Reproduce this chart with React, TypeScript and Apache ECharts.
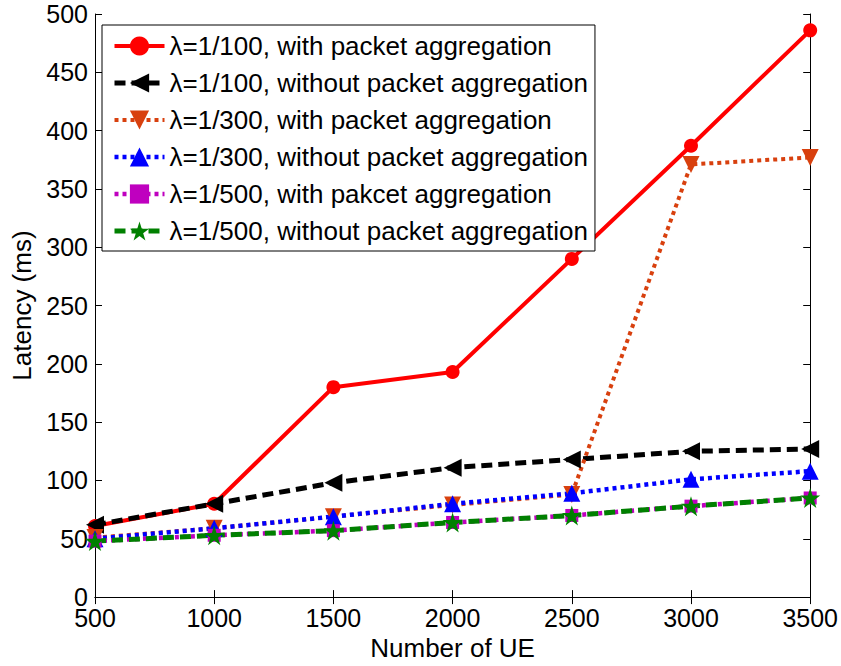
import React, { useEffect, useRef } from "react";
import * as echarts from "echarts";

const ueCounts = [500, 1000, 1500, 2000, 2500, 3000, 3500];
const yTicks = [0, 50, 100, 150, 200, 250, 300, 350, 400, 450, 500];

const lam100With = [61, 80, 180, 193, 290, 387, 486];
const lam100Without = [62, 80, 98, 111, 118, 125, 127];
const lam300With = [51, 59, 69, 79, 88, 371, 377];
const lam300Without = [50, 59, 69, 80, 89, 101, 108];
const lam500With = [48, 53, 57, 64, 70, 78, 85];
const lam500Without = [48, 53, 57, 64, 70, 78, 85];

const seriesNames = [
  "λ=1/100, with packet aggregation",
  "λ=1/100, without packet aggregation",
  "λ=1/300, with packet aggregation",
  "λ=1/300, without packet aggregation",
  "λ=1/500, with pakcet aggregation",
  "λ=1/500, without packet aggregation",
];

const STAR =
  "path://M50,0 L61.2,34.5 L97.6,34.5 L68.2,55.9 L79.4,90.5 L50,69.1 L20.6,90.5 L31.8,55.9 L2.4,34.5 L38.8,34.5 Z";

const FONT = "'Liberation Sans', Arial, sans-serif";

function pairs(vals: number[]) {
  return ueCounts.map((x, i) => [x, vals[i]]);
}

export default function App() {
  const ref = useRef<HTMLDivElement>(null);
  useEffect(() => {
    document.body.style.margin = "0";
    if (!ref.current) return;
    const chart = echarts.init(ref.current, undefined, { renderer: "svg" });
    const axisCommon = {
      axisLine: { show: true, lineStyle: { color: "#000", width: 1 } },
      axisTick: { show: true, inside: true, length: 7, lineStyle: { color: "#000", width: 1 } },
      splitLine: { show: false },
    };
    const styles = [
      { color: "#FF0000", type: "solid", width: 4, symbol: "circle", size: 14, rotate: 0 },
      { color: "#000000", type: [11, 6], width: 5, symbol: "triangle", size: 18, rotate: 90 },
      { color: "#D8400E", type: [4, 4], width: 4, symbol: "triangle", size: 17, rotate: 180 },
      { color: "#0000FF", type: [4, 4], width: 4.5, symbol: "triangle", size: 17, rotate: 0 },
      { color: "#BF00BF", type: [4, 4], width: 4.5, symbol: "rect", size: 13, rotate: 0 },
      { color: "#008000", type: [11, 6], width: 5, symbol: STAR, size: 20, rotate: 0 },
    ];
    const values = [lam100With, lam100Without, lam300With, lam300Without, lam500With, lam500Without];
    chart.setOption({
      animation: false,
      backgroundColor: "#fff",
      textStyle: { fontFamily: FONT },
      grid: { left: 95, right: 30, top: 14, bottom: 65, containLabel: false },
      legend: {
        orient: "vertical",
        left: 102,
        top: 25,
        padding: [8, 7, 7, 10],
        itemGap: 11,
        itemWidth: 50,
        itemHeight: 24,
        backgroundColor: "#fff",
        borderColor: "#000",
        borderWidth: 1,
        borderRadius: 0,
        textStyle: { fontSize: 26, color: "#000", fontFamily: FONT },
        data: seriesNames.map((n, i) => ({
          name: n,
          lineStyle: { width: styles[i].width, type: styles[i].type, color: styles[i].color },
        })),
        selectedMode: false,
        z: 10,
      },
      xAxis: [
        {
          type: "value",
          min: 500,
          max: 3500,
          interval: 500,
          position: "bottom",
          name: "Number of UE",
          nameLocation: "middle",
          nameGap: 34,
          nameTextStyle: { fontSize: 26, color: "#000", fontFamily: FONT },
          axisLabel: {
            fontSize: 25,
            color: "#000",
            margin: 8,
            fontFamily: FONT,
            formatter: (v: number) => String(v),
          },
          ...axisCommon,
        },
        {
          type: "value",
          min: 500,
          max: 3500,
          interval: 500,
          position: "top",
          axisLabel: { show: false },
          ...axisCommon,
        },
      ],
      yAxis: [
        {
          type: "value",
          min: yTicks[0],
          max: yTicks[yTicks.length - 1],
          interval: 50,
          position: "left",
          name: "Latency (ms)",
          nameLocation: "middle",
          nameGap: 60,
          nameTextStyle: { fontSize: 26, color: "#000", fontFamily: FONT },
          axisLabel: { fontSize: 25, color: "#000", margin: 7, fontFamily: FONT },
          ...axisCommon,
        },
        {
          type: "value",
          min: yTicks[0],
          max: yTicks[yTicks.length - 1],
          interval: 50,
          position: "right",
          axisLabel: { show: false },
          ...axisCommon,
        },
      ],
      series: seriesNames.map((name, i) => {
        const s = styles[i];
        return {
          name,
          type: "line",
          data: pairs(values[i]),
          symbol: s.symbol,
          symbolSize: s.size,
          symbolRotate: s.rotate,
          showAllSymbol: true,
          lineStyle: { color: s.color, width: s.width, type: s.type },
          itemStyle: { color: s.color, borderColor: s.color, borderWidth: 0 },
          emphasis: { disabled: true },
          z: 3,
        };
      }),
    });
    return () => chart.dispose();
  }, []);
  return <div ref={ref} style={{ width: 841, height: 666 }} />;
}
